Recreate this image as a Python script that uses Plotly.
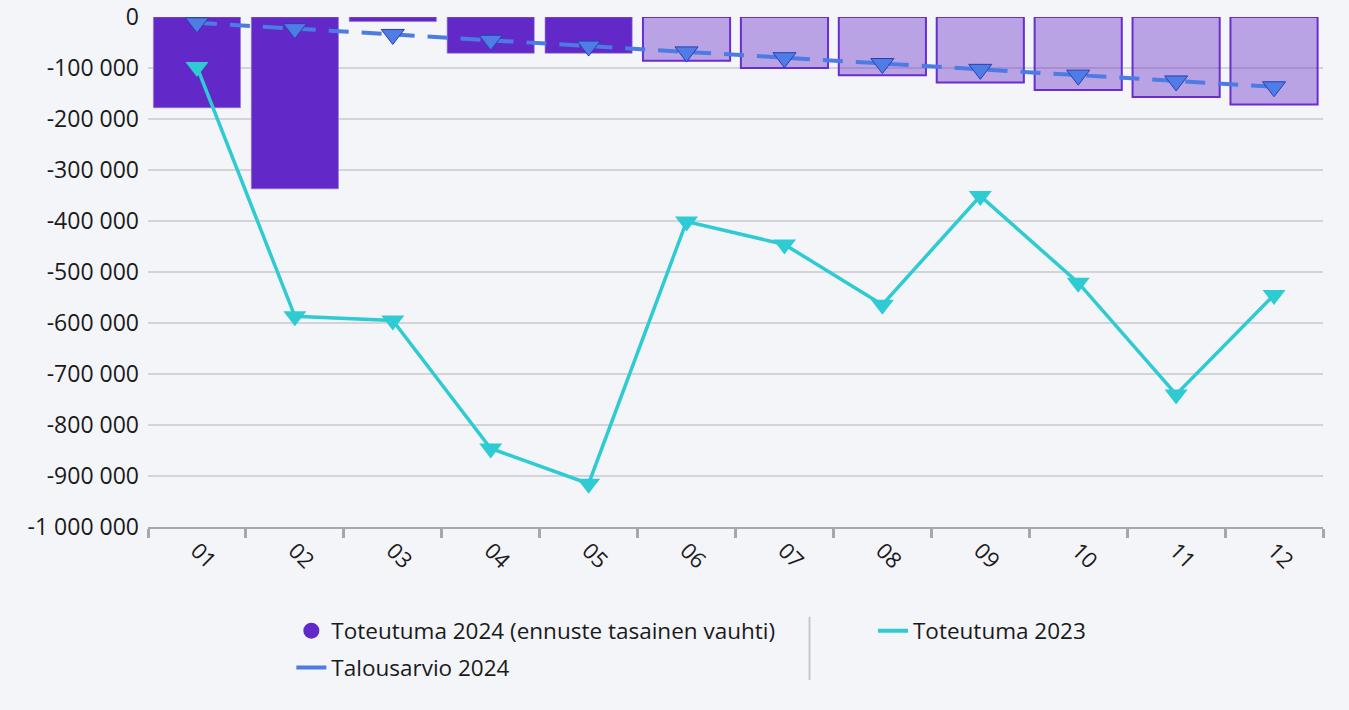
import plotly.graph_objects as go

months = ["01", "02", "03", "04", "05", "06", "07", "08", "09", "10", "11", "12"]
actual_2024 = [-178000, -337000, -9000, -71000, -71000, None, None, None, None, None, None, None]
forecast_2024 = [None, None, None, None, None, -85700, -100000, -114300, -128600, -142900, -157100, -171400]
budget_2024 = [-11400, -22800, -34200, -45600, -57000, -68400, -79800, -91200, -102600, -114000, -125400, -136800]
actual_2023 = [-98000, -587000, -595000, -846000, -915000, -401000, -446000, -564000, -351000, -521000, -740000, -545000]
y_ticks = [0, -100000, -200000, -300000, -400000, -500000, -600000, -700000, -800000, -900000, -1000000]
y_tick_text = [f"{v:,}".replace(",", " ") for v in y_ticks]

FONT = "Segoe UI, Open Sans, sans-serif"
PURPLE = "rgb(98,41,200)"
BUDGET = "#4C7BE3"
CYAN = "#2ECBD3"
BG = "#F4F5F9"

fig = go.Figure()
fig.add_trace(go.Bar(x=months, y=actual_2024, marker=dict(color=PURPLE, line=dict(color="rgba(150,120,220,0.6)", width=1)),
                     showlegend=False, name="Toteutuma 2024"))
fig.add_trace(go.Bar(x=months, y=forecast_2024, marker=dict(color="rgba(98,41,200,0.4)", line=dict(color="rgb(104,46,208)", width=2)),
                     showlegend=False, name="Ennuste 2024"))
fig.add_trace(go.Scatter(x=months, y=budget_2024, mode="lines+markers", showlegend=False,
                         line=dict(color=BUDGET, width=4, dash="20px,13px"),
                         marker=dict(symbol="triangle-down", size=20, color="#4F7DE5", line=dict(color="#2A3DB0", width=1))))
fig.add_trace(go.Scatter(x=months, y=actual_2023, mode="lines+markers", showlegend=False,
                         line=dict(color=CYAN, width=3.5),
                         marker=dict(symbol="triangle-down", size=20, color=CYAN)))

# legend proxies
fig.add_trace(go.Scatter(x=[None], y=[None], mode="markers", name="Toteutuma 2024 (ennuste tasainen vauhti)",
                         marker=dict(symbol="circle", size=24, color=PURPLE), legend="legend"))
fig.add_trace(go.Scatter(x=[None], y=[None], mode="lines", name="Talousarvio 2024",
                         line=dict(color=BUDGET, width=4), legend="legend2"))
fig.add_trace(go.Scatter(x=[None], y=[None], mode="lines", name="Toteutuma 2023",
                         line=dict(color=CYAN, width=4), legend="legend3"))

leg_common = dict(font=dict(family=FONT, size=22.5, color="#1a1a1a"), bgcolor="rgba(0,0,0,0)",
                  xanchor="left", yanchor="middle", itemwidth=30)

fig.update_layout(
    width=1349, height=710,
    paper_bgcolor=BG, plot_bgcolor=BG,
    margin=dict(l=148, r=26, t=17, b=183, autoexpand=False),
    bargap=0.11, barmode="overlay",
    font=dict(family=FONT, size=22, color="#1a1a1a"),
    legend=dict(x=0.122, y=-0.204, **leg_common),
    legend2=dict(x=0.122, y=-0.276, **leg_common),
    legend3=dict(x=0.617, y=-0.204, **leg_common),
    xaxis=dict(type="category", range=[-0.5, 11.5], tickangle=45, showgrid=False, showline=True,
               linecolor="#A5A8AD", linewidth=2,
               ticks="outside", tickson="boundaries", ticklen=9, tickwidth=3, tickcolor="#A5A8AD",
               tickfont=dict(family=FONT, size=22, color="#1a1a1a")),
    yaxis=dict(range=[-1000000, 0], tickvals=y_ticks, ticktext=y_tick_text, showgrid=True,
               gridcolor="#D3D4D8", gridwidth=2, zeroline=False, showline=False, ticklabelstandoff=8,
               automargin=False, tickfont=dict(family=FONT, size=23, color="#1a1a1a")),
    shapes=[dict(type="line", xref="paper", yref="paper", x0=0.563, x1=0.563, y0=-0.176, y1=-0.30,
                 line=dict(color="#C8C8C8", width=2))],
)

fig.write_html("out.html", config={"displayModeBar": False},
               post_script="document.body.style.margin='0';document.body.style.background='#F4F5F9';")
